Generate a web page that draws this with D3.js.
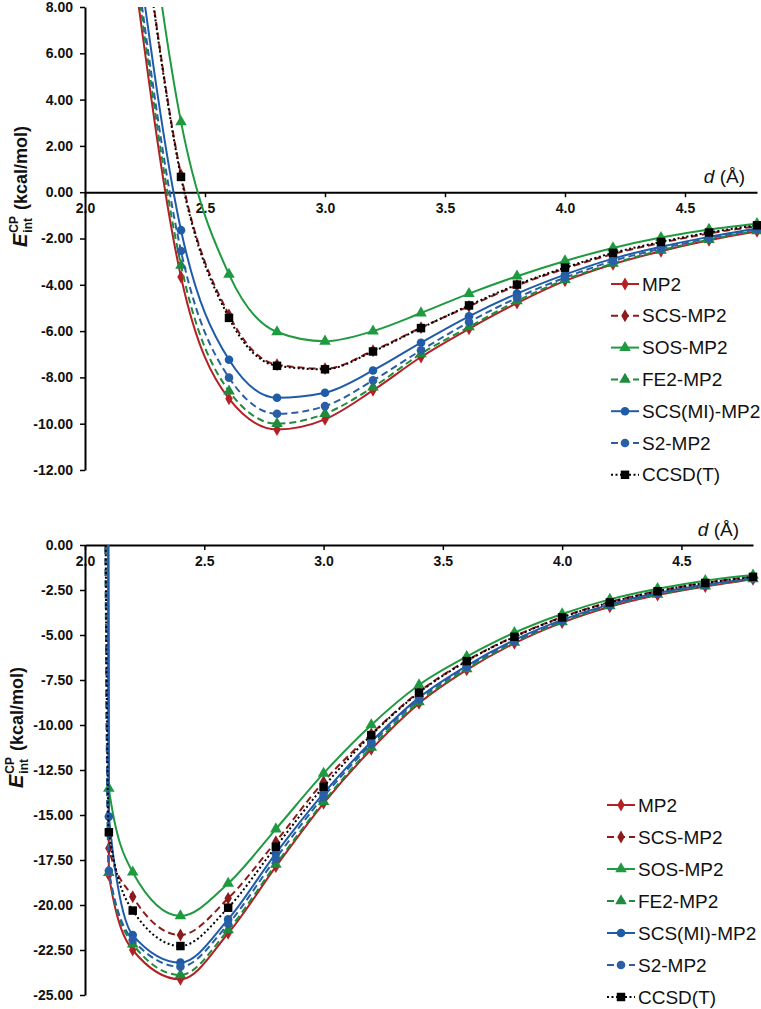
<!DOCTYPE html>
<html><head><meta charset="utf-8">
<script src="https://cdn.jsdelivr.net/npm/d3@7"></script>
<style>body{margin:0;background:#fff} text{font-family:"Liberation Sans",Arial,sans-serif}</style>
</head><body><svg id="c" width="761" height="1009"></svg>
<script>
// ---------- DATA ----------
const seriesNames = ["MP2","SCS-MP2","SOS-MP2","FE2-MP2","SCS(MI)-MP2","S2-MP2","CCSD(T)"];
const xTicks = [2.0,2.5,3.0,3.5,4.0,4.5];

// top panel
const topD      = [2.2, 2.4, 2.6, 2.8, 3.0, 3.2, 3.4, 3.6, 3.8, 4.0, 4.2, 4.4, 4.6, 4.8];
const topMP2    = [9.9, -3.66, -8.92, -10.25, -9.81, -8.56, -7.12, -5.90, -4.79, -3.83, -3.11, -2.55, -2.08, -1.69];
const topSCS    = [14.9, 0.75, -5.30, -7.45, -7.62, -6.85, -5.85, -4.93, -4.03, -3.30, -2.67, -2.19, -1.78, -1.47];
const topSOS    = [17.6, 3.04, -3.55, -6.04, -6.44, -6.00, -5.22, -4.38, -3.63, -2.97, -2.41, -1.96, -1.61, -1.36];
const topFE2    = [10.5, -3.16, -8.59, -10.00, -9.57, -8.42, -6.98, -5.82, -4.70, -3.78, -3.08, -2.51, -2.05, -1.67];
const topSCSMI  = [11.9, -1.64, -7.24, -8.88, -8.66, -7.70, -6.50, -5.36, -4.38, -3.56, -2.87, -2.36, -1.93, -1.57];
const topS2     = [10.9, -2.54, -8.01, -9.57, -9.24, -8.13, -6.83, -5.61, -4.56, -3.69, -2.97, -2.44, -1.99, -1.61];
const topCCSDT  = [14.8, 0.66, -5.43, -7.50, -7.65, -6.88, -5.87, -4.89, -3.99, -3.26, -2.62, -2.15, -1.74, -1.43];
const topYTicks = [8,6,4,2,0,-2,-4,-6,-8,-10,-12];

// bottom panel
const botD      = [2.0, 2.1, 2.2, 2.4, 2.6, 2.8, 3.0, 3.2, 3.4, 3.6, 3.8, 4.0, 4.2, 4.4, 4.6, 4.8];
const botMP2    = [600, -18.33, -22.50, -24.13, -21.57, -17.87, -14.35, -11.35, -8.80, -6.94, -5.46, -4.31, -3.43, -2.78, -2.31, -1.91];
const botSCS    = [600, -16.85, -19.54, -21.67, -19.63, -16.48, -13.15, -10.50, -8.16, -6.42, -5.08, -4.00, -3.17, -2.56, -2.10, -1.76];
const botSOS    = [600, -13.52, -18.18, -20.61, -18.80, -15.78, -12.69, -10.00, -7.78, -6.20, -4.87, -3.83, -3.02, -2.43, -1.98, -1.67];
const botFE2    = [600, -18.20, -22.17, -23.89, -21.39, -17.74, -14.26, -11.24, -8.72, -6.88, -5.41, -4.27, -3.39, -2.75, -2.28, -1.89];
const botSCSMI  = [600, -15.09, -21.67, -23.20, -20.80, -17.13, -13.80, -10.93, -8.48, -6.71, -5.28, -4.16, -3.30, -2.67, -2.21, -1.84];
const botS2     = [600, -18.10, -21.94, -23.43, -21.06, -17.41, -13.98, -11.06, -8.58, -6.78, -5.34, -4.21, -3.34, -2.70, -2.24, -1.86];
const botCCSDT  = [600, -15.96, -20.31, -22.28, -20.15, -16.76, -13.43, -10.56, -8.20, -6.45, -5.10, -4.02, -3.19, -2.57, -2.11, -1.77];
const botYTicks = [0,-2.5,-5,-7.5,-10,-12.5,-15,-17.5,-20,-22.5,-25];

// ---------- STYLES ----------
const styles = [
  {color:"#B32025", dash:null,  marker:"diamond"},
  {color:"#8E1B1C", dash:"7,4", marker:"diamond"},
  {color:"#1F9A40", dash:null,  marker:"triangle"},
  {color:"#1E8C3C", dash:"7,4", marker:"triangle"},
  {color:"#1F5CA8", dash:null,  marker:"circle"},
  {color:"#2A5FA6", dash:"7,4", marker:"circle"},
  {color:"#000000", dash:"2,2.5", marker:"square"}
];
const symMap = {
  diamond: d3.symbol().type(d3.symbolDiamond).size(48),
  triangle: d3.symbol().type(d3.symbolTriangle).size(58),
  circle: d3.symbol().type(d3.symbolCircle).size(58),
  square: d3.symbol().type(d3.symbolSquare).size(72)
};

const svg = d3.select("#c");

function panel(cfg){
  const g = svg.append("g");
  const x = d3.scaleLinear().domain([2.0,4.8]).range([cfg.x0, cfg.x1]);
  const y = d3.scaleLinear().domain([cfg.ymax, cfg.ymin]).range([cfg.y0, cfg.y1]);
  const cid = "clip" + cfg.id;
  svg.append("clipPath").attr("id", cid).append("rect")
    .attr("x", cfg.x0).attr("y", cfg.y0).attr("width", cfg.x1 - cfg.x0 + 4).attr("height", cfg.y1 - cfg.y0);

  // x axis at zero
  const xa = g.append("g").attr("transform", `translate(0,${y(0)})`)
    .call(d3.axisBottom(x).tickValues(xTicks).tickFormat(d => d.toFixed(1)).tickSize(5).tickSizeOuter(0).tickPadding(6));
  xa.select(".domain").attr("stroke","#000").attr("stroke-width",2);
  xa.selectAll(".tick line").attr("stroke","#000").attr("stroke-width",1.5);
  xa.selectAll("text").attr("font-size",14).attr("font-weight","bold").attr("fill","#111");

  // y axis
  const ya = g.append("g").attr("transform", `translate(${cfg.x0},0)`)
    .call(d3.axisLeft(y).tickValues(cfg.yTicks).tickFormat(d => d.toFixed(2)).tickSize(5).tickSizeOuter(0).tickPadding(7));
  ya.select(".domain").attr("stroke","#000").attr("stroke-width",2);
  ya.selectAll(".tick line").attr("stroke","#000").attr("stroke-width",1.5);
  ya.selectAll("text").attr("font-size",14).attr("font-weight","bold").attr("fill","#111");

  // d (Å) label
  const dl = g.append("text").attr("x", cfg.dlabX).attr("y", y(0) - 9)
    .attr("text-anchor","end").attr("font-size",19).attr("fill","#111");
  dl.append("tspan").attr("font-style","italic").text("d");
  dl.append("tspan").text(" (Å)");

  // y title
  const tg = g.append("g").attr("transform", `translate(${cfg.titleX},${cfg.titleY}) rotate(-90)`);
  const tE = tg.append("text").attr("x",0).attr("y",0).attr("font-size",20).attr("font-weight","bold")
    .attr("font-style","italic").attr("fill","#111").text("E");
  const wE = tE.node().getComputedTextLength();
  const tSup = tg.append("text").attr("x", wE + 1).attr("y", -9).attr("font-size",12).attr("font-weight","bold").attr("fill","#111").text("CP");
  const tSub = tg.append("text").attr("x", wE + 1).attr("y", 5).attr("font-size",12).attr("font-weight","bold").attr("fill","#111").text("int");
  const wS = Math.max(tSup.node().getComputedTextLength(), tSub.node().getComputedTextLength());
  tg.append("text").attr("x", wE + wS + 7).attr("y",0).attr("font-size",18).attr("font-weight","bold").attr("fill","#111").text("(kcal/mol)");

  const line = d3.line().x(p => x(p[0])).y(p => y(p[1])).curve(d3.curveMonotoneX);

  cfg.series.forEach((vals, i) => {
    const st = styles[i];
    const pts = cfg.d.map((d, j) => [d, vals[j]]);
    g.append("path").attr("clip-path", `url(#${cid})`).attr("d", line(pts))
      .attr("fill","none").attr("stroke", st.color).attr("stroke-width", 2)
      .attr("stroke-dasharray", st.dash);
    g.selectAll(null).data(pts.filter(p => p[1] <= cfg.ymax && p[1] >= cfg.ymin)).enter()
      .append("path").attr("transform", p => `translate(${x(p[0])},${y(p[1])})`)
      .attr("d", symMap[st.marker]()).attr("fill", st.color);
  });

  // legend
  seriesNames.forEach((name, i) => {
    const st = styles[i];
    const cy = cfg.legY + i * cfg.legStep;
    g.append("line").attr("x1", cfg.legX).attr("x2", cfg.legX + 28).attr("y1", cy).attr("y2", cy)
      .attr("stroke", st.color).attr("stroke-width", 2).attr("stroke-dasharray", st.dash);
    g.append("path").attr("transform", `translate(${cfg.legX + 14},${cy})`).attr("d", symMap[st.marker]()).attr("fill", st.color);
    g.append("text").attr("x", cfg.legX + 31).attr("y", cy + 6.5).attr("font-size", 19).attr("fill","#111").text(name);
  });
}

panel({id:"t", x0:85, x1:757, y0:7, y1:470, ymax:8, ymin:-12, yTicks:topYTicks, d:topD,
  series:[topMP2, topSCS, topSOS, topFE2, topSCSMI, topS2, topCCSDT],
  dlabX:745, titleX:27, titleY:247, legX:611, legY:284, legStep:31.8});
panel({id:"b", x0:85, x1:753, y0:545, y1:995, ymax:0, ymin:-25, yTicks:botYTicks, d:botD,
  series:[botMP2, botSCS, botSOS, botFE2, botSCSMI, botS2, botCCSDT],
  dlabX:739, titleX:23, titleY:788, legX:607, legY:805, legStep:32});
</script></body></html>
